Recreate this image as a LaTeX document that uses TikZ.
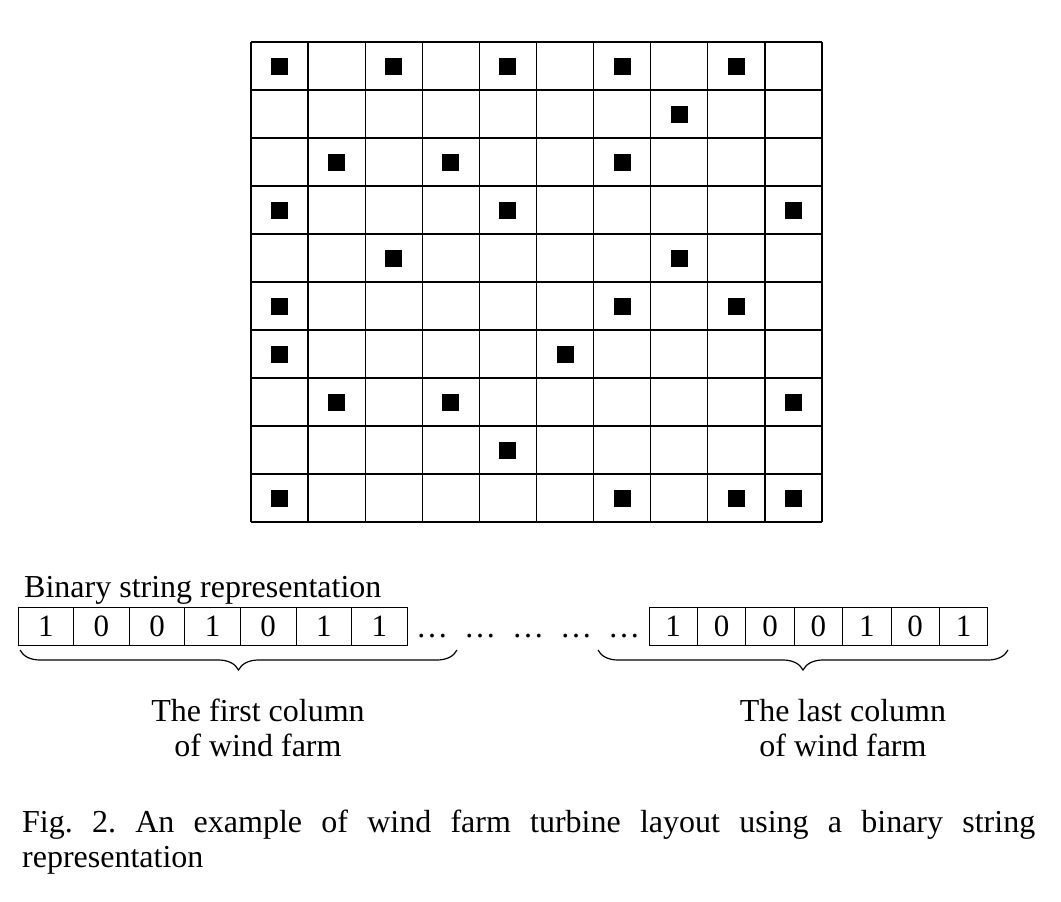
\documentclass[tikz,border=0pt]{standalone}
\usepackage{fontspec}
\setmainfont{Liberation Serif}
\usetikzlibrary{decorations.pathreplacing}
\begin{document}
\frenchspacing
\begin{tikzpicture}[x=1pt,y=-1pt,
  cell/.style={draw,line width=1.3pt},
  turb/.style={fill=black,minimum size=17pt,inner sep=0pt},
  bit/.style={draw,line width=1pt,minimum height=38pt,inner sep=0pt,font=\fontsize{31}{34}\selectfont},
  lbl/.style={font=\fontsize{32}{35}\selectfont,align=center},
  br/.style={decorate,decoration={brace,mirror,amplitude=20pt},line width=1.2pt}]
\useasboundingbox (0,0) rectangle (1061,902);
\foreach \i in {0,...,10}{
  \draw[cell] ({251+\i*57.1},42) -- ({251+\i*57.1},522);
  \draw[cell] (251,{42+\i*48}) -- (822,{42+\i*48});}
\foreach \r/\c in {0/0,0/2,0/4,0/6,0/8,1/7,2/1,2/3,2/6,3/0,3/4,3/9,4/2,4/7,5/0,5/6,5/8,6/0,6/5,7/1,7/3,7/9,8/4,9/0,9/6,9/8,9/9}
  \node[turb] (t\r\c) at ({279.5+\c*57.1},{66+\r*48}) {};
\node[lbl,anchor=base west,inner sep=0pt] (title) at (24,597) {Binary string representation};
\foreach \v [count=\k from 0] in {1,0,0,1,0,1,1}
  \node[bit,minimum width=55.6pt] (L\k) at ({45.8+\k*55.6},626) {\v};
\foreach \v [count=\k from 0] in {1,0,0,0,1,0,1}
  \node[bit,minimum width=48.4pt] (R\k) at ({673.2+\k*48.4},626) {\v};
\node[lbl,anchor=base,inner sep=0pt] (dots) at (528,637) {\dots\ \ \dots\ \ \dots\ \ \dots\ \ \dots};
\coordinate (a1) at (20,650); \coordinate (a2) at (457,650);
\coordinate (b1) at (598,650); \coordinate (b2) at (1008,650);
\draw[br] (a1) -- (a2);
\draw[br] (b1) -- (b2);
\node[lbl] (first) at (258,728) {The first column\\of wind farm};
\node[lbl] (last) at (843,728) {The last column\\of wind farm};
\node[lbl,anchor=north west,align=justify,text width=1013pt,inner sep=0pt] (cap) at (22,810)
  {Fig. 2. An example of wind farm turbine layout using a binary string\linebreak representation};
\end{tikzpicture}
\end{document}
